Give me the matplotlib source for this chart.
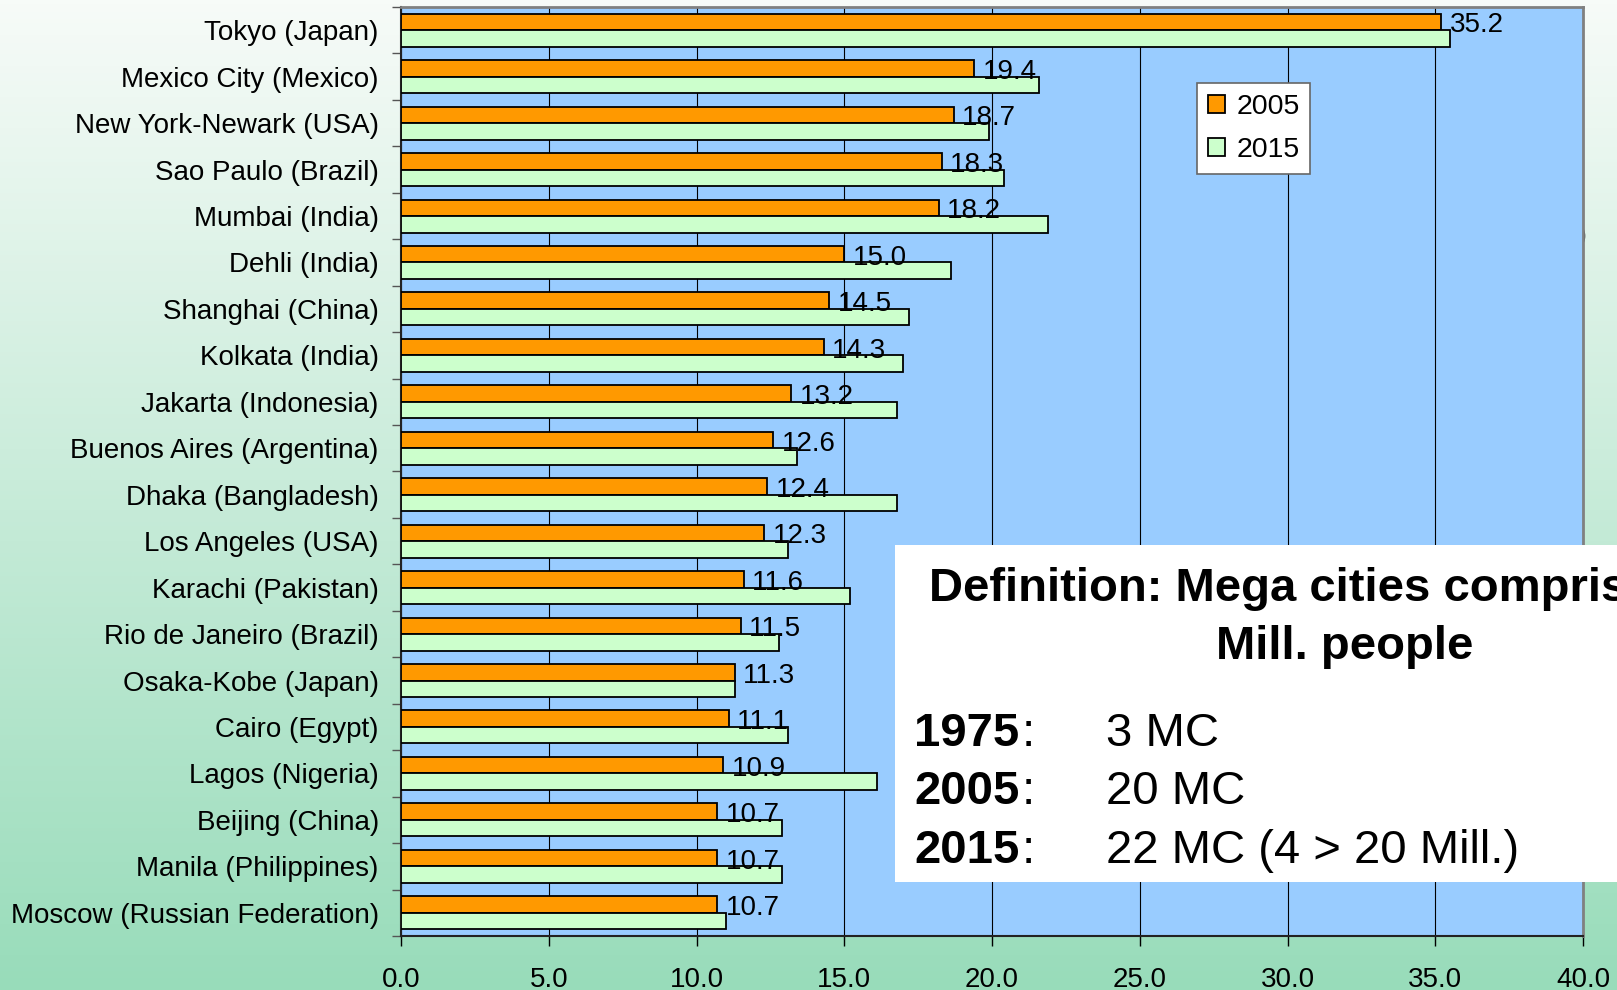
import numpy as np
import matplotlib
matplotlib.use("Agg")
import matplotlib.pyplot as plt
from matplotlib.patches import Rectangle, Patch

plt.rcParams['font.family'] = ['Liberation Sans', 'DejaVu Sans']

# Largest urban agglomerations, population in millions
cities = [
    "Tokyo (Japan)", "Mexico City (Mexico)", "New York-Newark (USA)",
    "Sao Paulo (Brazil)", "Mumbai (India)", "Dehli (India)",
    "Shanghai (China)", "Kolkata (India)", "Jakarta (Indonesia)",
    "Buenos Aires (Argentina)", "Dhaka (Bangladesh)", "Los Angeles (USA)",
    "Karachi (Pakistan)", "Rio de Janeiro (Brazil)", "Osaka-Kobe (Japan)",
    "Cairo (Egypt)", "Lagos (Nigeria)", "Beijing (China)",
    "Manila (Philippines)", "Moscow (Russian Federation)",
]
pop_2005 = [35.2, 19.4, 18.7, 18.3, 18.2, 15.0, 14.5, 14.3, 13.2, 12.6,
            12.4, 12.3, 11.6, 11.5, 11.3, 11.1, 10.9, 10.7, 10.7, 10.7]
pop_2015 = [35.5, 21.6, 19.9, 20.4, 21.9, 18.6, 17.2, 17.0, 16.8, 13.4,
            16.8, 13.1, 15.2, 12.8, 11.3, 13.1, 16.1, 12.9, 12.9, 11.0]
series_labels = ["2005", "2015"]
x_ticks = [0, 5, 10, 15, 20, 25, 30, 35, 40]

definition_lines = ["Definition: Mega cities comprise > 10", "Mill. people"]
mc_years = ["1975", "2005", "2015"]
mc_counts = ["3 MC", "20 MC", "22 MC (4 > 20 Mill.)"]

W, H = 1617, 990
fig = plt.figure(figsize=(W / 100, H / 100), dpi=100)


def fx(px):
    return px / W


def fy(py):
    return 1 - py / H


# Vertical white-to-green background
bg = fig.add_axes([0, 0, 1, 1], zorder=-10)
top = np.array([247, 251, 248]) / 255
bottom = np.array([152, 220, 186]) / 255
t = np.linspace(0, 1, 256)[:, None]
grad = (top[None, :] * (1 - t) + bottom[None, :] * t)[:, None, :]
bg.imshow(grad, aspect='auto', extent=[0, 1, 0, 1])
bg.set_axis_off()

# partially hidden glyph behind the plot frame
fig.text(fx(1587), fy(236), ")", ha='right', va='center', fontsize=19,
         color='black', zorder=-5)

ax = fig.add_axes([fx(401), fy(936), fx(1583) - fx(401), fy(7) - fy(936)])
ax.set_facecolor('#99CCFF')

n = len(cities)
ypos = np.arange(n)
bh = 0.355
ax.barh(ypos - bh / 2, pop_2005, height=bh, color='#FF9900',
        edgecolor='black', linewidth=1.3, zorder=3)
ax.barh(ypos + bh / 2, pop_2015, height=bh, color='#CCFFCC',
        edgecolor='black', linewidth=1.3, zorder=3)

for y, v in zip(ypos, pop_2005):
    ax.annotate(f"{v:.1f}", xy=(v, y - bh / 2), xytext=(6, -2.5),
                textcoords='offset points', ha='left', va='center',
                fontsize=20, color='black', zorder=4)

ax.set_xlim(0, 40)
ax.set_ylim(n - 0.5, -0.5)

ax.set_xticks(x_ticks)
ax.set_xticklabels([f"{v:.1f}" for v in x_ticks], fontsize=20)
ax.tick_params(axis='x', direction='out', length=7, width=1, color='black',
               pad=15)

ax.set_yticks(ypos)
ax.set_yticklabels(cities, fontsize=20)
ax.tick_params(axis='y', which='major', length=0, pad=16)
ax.set_yticks(np.arange(n + 1) - 0.5, minor=True)
ax.tick_params(axis='y', which='minor', direction='out', length=6.5,
               width=1, color='#555555')

ax.grid(axis='x', color='black', linewidth=0.8, zorder=1)
ax.set_axisbelow(True)

for side in ('top', 'right'):
    ax.spines[side].set_color('#808080')
    ax.spines[side].set_linewidth(2)
for side in ('left', 'bottom'):
    ax.spines[side].set_color('#222222')
    ax.spines[side].set_linewidth(1.5)

handles = [Patch(facecolor='#FF9900', edgecolor='black', linewidth=1.3),
           Patch(facecolor='#CCFFCC', edgecolor='black', linewidth=1.3)]
leg = ax.legend(handles, series_labels, loc='upper left',
                bbox_to_anchor=(fx(1197), fy(83)),
                bbox_transform=fig.transFigure, fontsize=20.5,
                handlelength=0.6, handleheight=0.6, handletextpad=0.4,
                labelspacing=0.62, borderpad=0.38, borderaxespad=0,
                fancybox=False, framealpha=1, facecolor='white',
                edgecolor='#666666')
leg.get_frame().set_linewidth(1.2)

# Definition panel
fig.add_artist(Rectangle((fx(895), fy(882)), fx(W + 50) - fx(895),
                         fy(545) - fy(882), transform=fig.transFigure,
                         facecolor='white', edgecolor='none', zorder=5))
fig.text(fx(1345), fy(601), definition_lines[0], ha='center',
         va='baseline', fontsize=34, fontweight='bold', zorder=6)
fig.text(fx(1345), fy(659), definition_lines[1], ha='center',
         va='baseline', fontsize=34, fontweight='bold', zorder=6)

baselines = [746, 804, 863]
for yr, cnt, b in zip(mc_years, mc_counts, baselines):
    fig.text(fx(914), fy(b), yr, ha='left', va='baseline', fontsize=34,
             fontweight='bold', zorder=6)
    fig.text(fx(1022), fy(b), ":", ha='left', va='baseline', fontsize=34,
             zorder=6)
    fig.text(fx(1106), fy(b), cnt, ha='left', va='baseline', fontsize=34,
             zorder=6)

fig.savefig("out.png", dpi=100)
